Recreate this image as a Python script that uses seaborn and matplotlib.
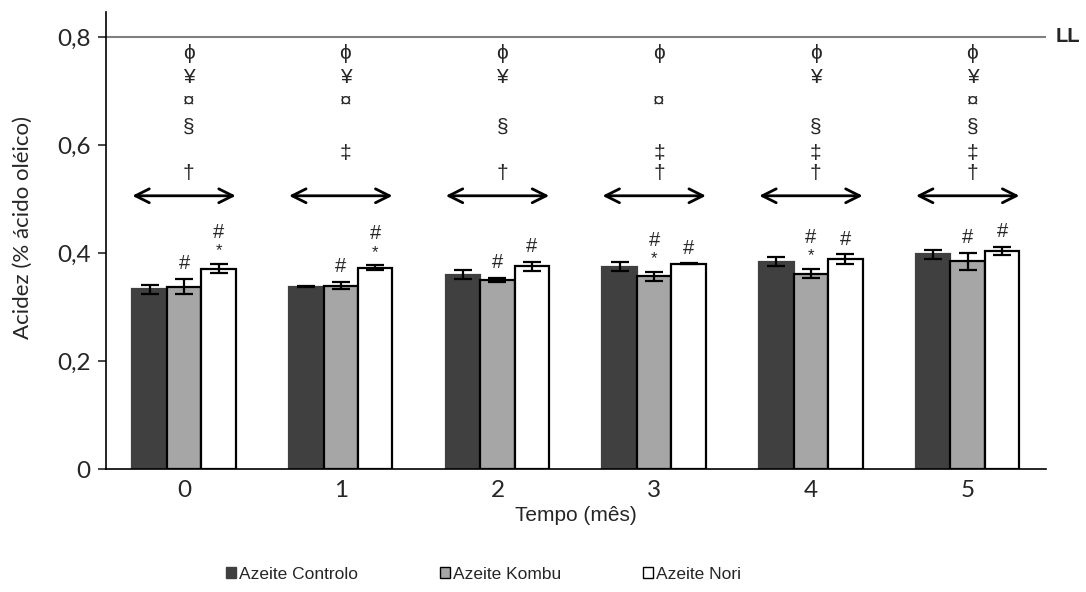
import matplotlib
matplotlib.use("Agg")
import matplotlib.pyplot as plt
import seaborn as sns
import pandas as pd
from matplotlib.patches import Patch

# ---------------- data ----------------
months = ["0", "1", "2", "3", "4", "5"]
series = ["Azeite Controlo", "Azeite Kombu", "Azeite Nori"]
controlo = [0.333, 0.338, 0.360, 0.375, 0.384, 0.398]
kombu = [0.338, 0.340, 0.350, 0.357, 0.362, 0.385]
nori = [0.371, 0.373, 0.376, 0.380, 0.389, 0.404]
controlo_err = [0.0087, 0.001, 0.0083, 0.0083, 0.0083, 0.0086]
kombu_err = [0.014, 0.0065, 0.004, 0.008, 0.0083, 0.016]
nori_err = [0.0086, 0.0046, 0.0083, 0.001, 0.0086, 0.008]

# significance marks above bars
hash_kombu = [1, 1, 1, 1, 1, 1]
star_kombu = [0, 0, 0, 1, 1, 0]
hash_nori = [1, 1, 1, 1, 1, 1]
star_nori = [1, 1, 0, 0, 0, 0]

# symbols above each month group
symbol_order = ["ϕ", "¥", "¤", "§", "‡", "†"]
symbol_levels = [0.770, 0.724, 0.681, 0.632, 0.584, 0.547]
group_symbols = [
    ["ϕ", "¥", "¤", "§", "†"],
    ["ϕ", "¥", "¤", "‡"],
    ["ϕ", "¥", "§", "†"],
    ["ϕ", "¤", "‡", "†"],
    ["ϕ", "¥", "§", "‡", "†"],
    ["ϕ", "¥", "¤", "§", "‡", "†"],
]
arrow_level = 0.506
ll_value = 0.8
yticks = [0, 0.2, 0.4, 0.6, 0.8]
ytick_labels = ["0", "0,2", "0,4", "0,6", "0,8"]

colors = ["#404040", "#a6a6a6", "#ffffff"]

df = pd.DataFrame({
    "Tempo": months * 3,
    "Azeite": [s for s in series for _ in months],
    "Acidez": controlo + kombu + nori,
})

sns.set_style("white")
plt.rcParams["font.family"] = ["Liberation Sans", "DejaVu Sans"]

fig = plt.figure(figsize=(10.86, 5.92), dpi=100)
ax = fig.add_axes([0.0973, 0.2073, 0.8659, 0.7724])

sns.barplot(data=df, x="Tempo", y="Acidez", hue="Azeite", order=months,
            hue_order=series, palette=colors, width=0.66, errorbar=None,
            edgecolor="black", linewidth=1.6, saturation=1, ax=ax)
if ax.get_legend() is not None:
    ax.get_legend().remove()

bar_containers = list(ax.containers)
for p in bar_containers[0]:
    p.set_edgecolor(colors[0])

errs = [controlo_err, kombu_err, nori_err]
vals = [controlo, kombu, nori]
centers = []
for i, cont in enumerate(bar_containers):
    xs = [p.get_x() + p.get_width() / 2 for p in cont]
    centers.append(xs)
for i in range(3):
    ax.errorbar(centers[i], vals[i], yerr=errs[i], fmt="none", ecolor="black",
                elinewidth=1.6, capsize=6.5, capthick=1.6, zorder=5)

# significance marks
for i in range(len(months)):
    for s_idx, hs, st in ((1, hash_kombu, star_kombu), (2, hash_nori, star_nori)):
        x = centers[s_idx][i]
        top = vals[s_idx][i] + errs[s_idx][i]
        off = 4
        if st[i]:
            ax.annotate("*", (x, top), xytext=(0, off), textcoords="offset points",
                        ha="center", va="bottom", fontsize=12)
            off += 12
        if hs[i]:
            ax.annotate("#", (x, top), xytext=(0, off), textcoords="offset points",
                        ha="center", va="bottom", fontsize=14.5)

# group symbols and arrows
for i, syms in enumerate(group_symbols):
    for s in syms:
        lvl = symbol_levels[symbol_order.index(s)]
        ax.text(i + 0.03, lvl, s, ha="center", va="center", fontsize=15,
                family=["Liberation Sans", "DejaVu Sans"])
    ax.annotate("", xy=(i - 0.33, arrow_level), xytext=(i + 0.33, arrow_level),
                arrowprops=dict(arrowstyle="<->,head_length=1.0,head_width=0.5",
                                lw=2, color="black", shrinkA=0, shrinkB=0))

# LL line
ax.axhline(ll_value, color="#808080", lw=1.5, zorder=0)
ax.text(1.01, ll_value, "LL", transform=ax.get_yaxis_transform(),
        ha="left", va="center", fontsize=14.5, fontweight="bold")

ax.set_xlim(-0.5, 5.5)
ax.set_ylim(0, 0.846)
ax.set_yticks(yticks)
ax.set_yticklabels(ytick_labels, fontsize=17.5, family=["Lato", "DejaVu Sans"])
ax.set_xticks(range(len(months)))
ax.set_xticklabels(months, fontsize=17.5, family=["Lato", "DejaVu Sans"])
ax.tick_params(axis="y", direction="out", length=6, width=1.2, left=True, pad=5)
ax.tick_params(axis="x", length=0, pad=8)
ax.set_xlabel("Tempo (mês)", fontsize=15, labelpad=3)
ax.set_ylabel("Acidez (% ácido oléico)", fontsize=16, family=["Lato", "DejaVu Sans"])
ax.yaxis.set_label_coords(-0.0773, 0.528)

for side in ("top", "right"):
    ax.spines[side].set_visible(False)
for side in ("left", "bottom"):
    ax.spines[side].set_color("black")
    ax.spines[side].set_linewidth(1.2)

handles = [Patch(facecolor=c, edgecolor=("black" if j else c), linewidth=1)
           for j, c in enumerate(colors)]
fig.legend(handles, series, loc="center", bbox_to_anchor=(0.445, 0.03),
           ncol=3, frameon=False, fontsize=12.5, handlelength=0.6,
           handleheight=0.6, handletextpad=0.15, columnspacing=4.7)

fig.savefig("out.png", dpi=100)
